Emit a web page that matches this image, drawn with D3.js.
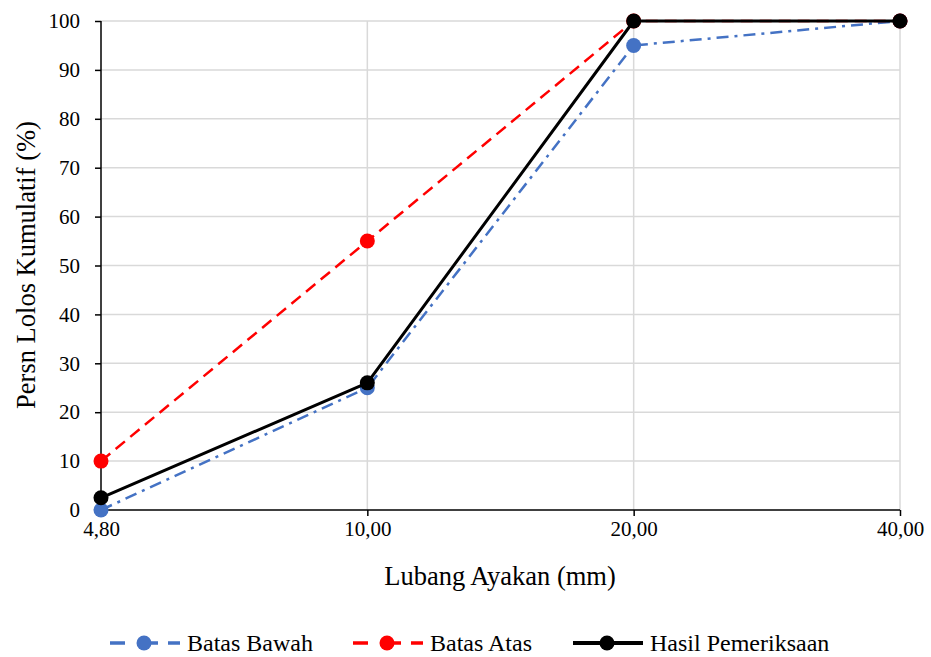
<!DOCTYPE html>
<html><head><meta charset="utf-8">
<script src="https://cdn.jsdelivr.net/npm/d3@7"></script>
</head><body style="margin:0">
<svg id="c" width="931" height="657" font-family="Liberation Serif"></svg>
<script>
const categories = ["4,80","10,00","20,00","40,00"];
const batasBawah = [0, 25, 95, 100];
const batasAtas = [10, 55, 100, 100];
const hasilPemeriksaan = [2.5, 26, 100, 100];
const yTicks = [0,10,20,30,40,50,60,70,80,90,100];

const series = [
  {name:"Batas Bawah", values:batasBawah, color:"#4472C4", dash:"12,6,3,6", legDash:"15,13,0,0,20,10", width:2.5},
  {name:"Batas Atas", values:batasAtas, color:"#FF0000", dash:"12,7", legDash:"15,13,0,0,20,10", width:2.5},
  {name:"Hasil Pemeriksaan", values:hasilPemeriksaan, color:"#000000", dash:null, legDash:null, width:3}
];

const FONT = "Liberation Serif";
const svg = d3.select("#c");
const x = d3.scalePoint().domain(categories).range([101, 900]);
const y = d3.scaleLinear().domain([0,100]).range([510, 21]);

// gridlines
svg.append("g").selectAll("line").data(yTicks.slice(1)).join("line")
  .attr("x1",101).attr("x2",900).attr("y1",d=>y(d)).attr("y2",d=>y(d))
  .attr("stroke","#d9d9d9").attr("stroke-width",1.5);
svg.append("g").selectAll("line").data(categories.slice(1)).join("line")
  .attr("x1",d=>x(d)).attr("x2",d=>x(d)).attr("y1",y(0)).attr("y2",y(100))
  .attr("stroke","#d9d9d9").attr("stroke-width",1.5);

// axes
const xAxis = svg.append("g").attr("transform",`translate(0,${y(0)})`)
  .call(d3.axisBottom(x).tickSize(6).tickPadding(5));
xAxis.attr("font-family",FONT).attr("font-size",21);
xAxis.select(".domain").attr("stroke","#000").attr("stroke-width",1.5).attr("d",`M101,0H900`);
xAxis.selectAll(".tick line").attr("stroke","#000").attr("stroke-width",1.5);
xAxis.selectAll("text").attr("font-family",FONT).attr("font-size",21).attr("fill","#000");

const yAxis = svg.append("g").attr("transform",`translate(101,0)`)
  .call(d3.axisLeft(y).tickValues(yTicks).tickSize(6).tickPadding(15));
yAxis.attr("font-family",FONT).attr("font-size",21);
yAxis.select(".domain").attr("stroke","#000").attr("stroke-width",1.5).attr("d",`M0,${y(0)}V${y(100)}`);
yAxis.selectAll(".tick line").attr("stroke","#000").attr("stroke-width",1.5);
yAxis.selectAll("text").attr("font-family",FONT).attr("font-size",21).attr("fill","#000");

// titles
svg.append("text").attr("x",500).attr("y",585).attr("text-anchor","middle")
  .attr("font-family",FONT).attr("font-size",26.5).attr("fill","#000").text("Lubang Ayakan (mm)");
svg.append("text").attr("transform","translate(35,265) rotate(-90)").attr("text-anchor","middle")
  .attr("font-family",FONT).attr("font-size",26.5).attr("fill","#000").text("Persn Lolos Kumulatif (%)");

// series
const line = d3.line().x((d,i)=>x(categories[i])).y(d=>y(d));
series.forEach(s=>{
  const g = svg.append("g");
  g.append("path").datum(s.values).attr("d",line).attr("fill","none")
    .attr("stroke",s.color).attr("stroke-width",s.width)
    .attr("stroke-dasharray",s.dash).attr("stroke-linejoin","round");
  g.selectAll("circle").data(s.values).join("circle")
    .attr("cx",(d,i)=>x(categories[i])).attr("cy",d=>y(d)).attr("r",7.5)
    .attr("fill",s.color);
});

// legend
const legX = [110, 353, 573];
series.forEach((s,i)=>{
  const g = svg.append("g").attr("transform",`translate(${legX[i]},643)`);
  g.append("line").attr("x1",0).attr("x2",70).attr("y1",0).attr("y2",0)
    .attr("stroke",s.color).attr("stroke-width",s.width+1).attr("stroke-dasharray",s.legDash);
  g.append("circle").attr("cx",34).attr("cy",0).attr("r",7.5).attr("fill",s.color);
  g.append("text").attr("x",77).attr("y",8).attr("font-family",FONT).attr("font-size",24)
    .attr("fill","#000").text(s.name);
});
</script>
</body></html>
